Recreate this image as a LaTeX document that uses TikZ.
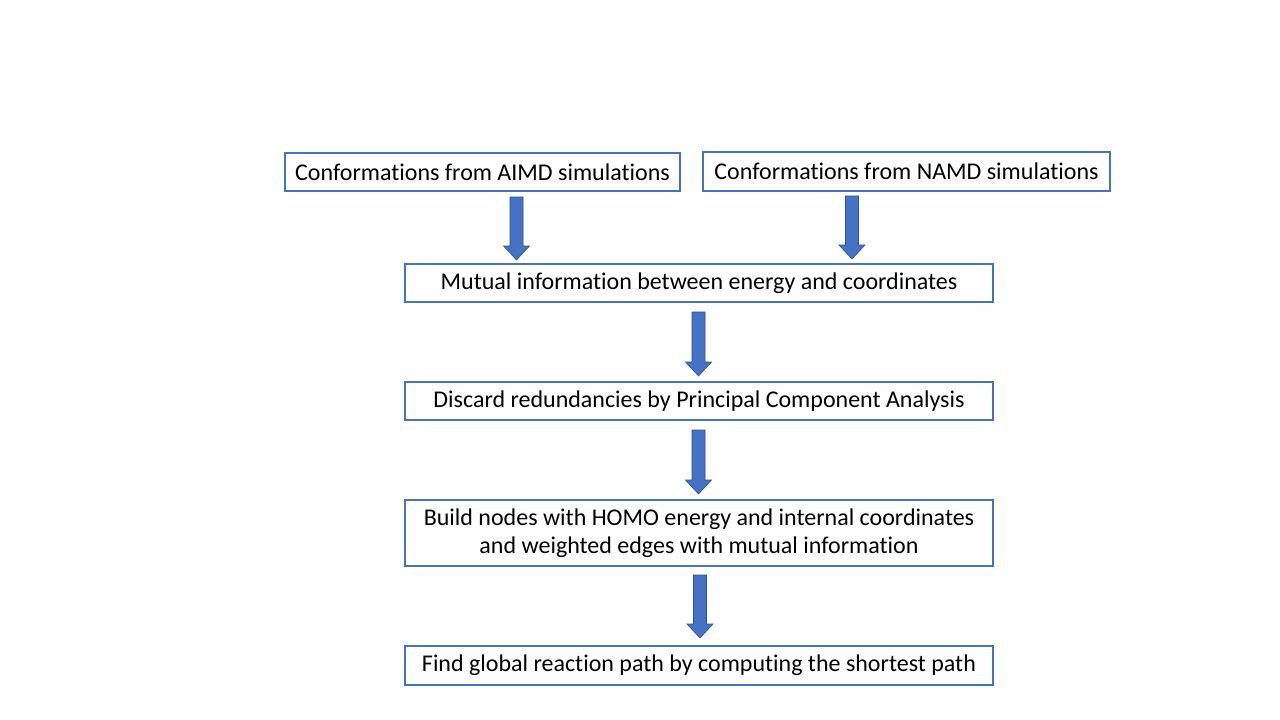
\documentclass[tikz,border=0pt]{standalone}
\usepackage{fontspec}
\setmainfont{Carlito}[Ligatures=NoCommon]
\definecolor{boxblue}{HTML}{4472C4}
\definecolor{arrowedge}{HTML}{2F528F}
\begin{document}
\begin{tikzpicture}[x=1pt,y=-1pt,
  stepbox/.style={draw=boxblue,line width=1.3pt,fill=white,inner sep=0pt,font=\fontsize{24}{28}\selectfont,align=center},
  blockarrow/.style={fill=boxblue,draw=arrowedge,line width=0.6pt}]
\useasboundingbox (0,0) rectangle (1280,720);
\fill[white] (0,0) rectangle (1280,720);
\newcommand{\boxat}[6]{%
  \node[stepbox,minimum width=#4-#2,minimum height=#5-#3] (#1) at ({(#2+#4)/2},{(#3+#5)/2}) {#6};}
\boxat{aimd}{285}{153}{680}{191}{Conformations from AIMD simulations}
\boxat{namd}{703}{152}{1110}{191}{Conformations from NAMD simulations}
\boxat{mi}{405}{264}{993}{302}{Mutual information between energy and coordinates}
\boxat{pca}{405}{382}{993}{420}{Discard redundancies by Principal Component Analysis}
\boxat{build}{405}{500}{993}{566}{Build nodes with HOMO energy and internal coordinates\\and weighted edges with mutual information}
\boxat{find}{405}{646}{993}{685}{Find global reaction path by computing the shortest path}
% block arrows: center x, top y, tip y
\newcommand{\blockarr}[3]{%
  \draw[blockarrow] ({#1-6.5},#2) -- ({#1+6.5},#2) -- ({#1+6.5},{#3-14}) -- ({#1+13},{#3-14})
    -- (#1,#3) -- ({#1-13},{#3-14}) -- ({#1-6.5},{#3-14}) -- cycle;}
\blockarr{516.5}{197}{260}
\blockarr{852}{196}{259}
\blockarr{698.5}{312}{376}
\blockarr{698.5}{430}{494}
\blockarr{700}{575}{638}
\end{tikzpicture}
\end{document}
